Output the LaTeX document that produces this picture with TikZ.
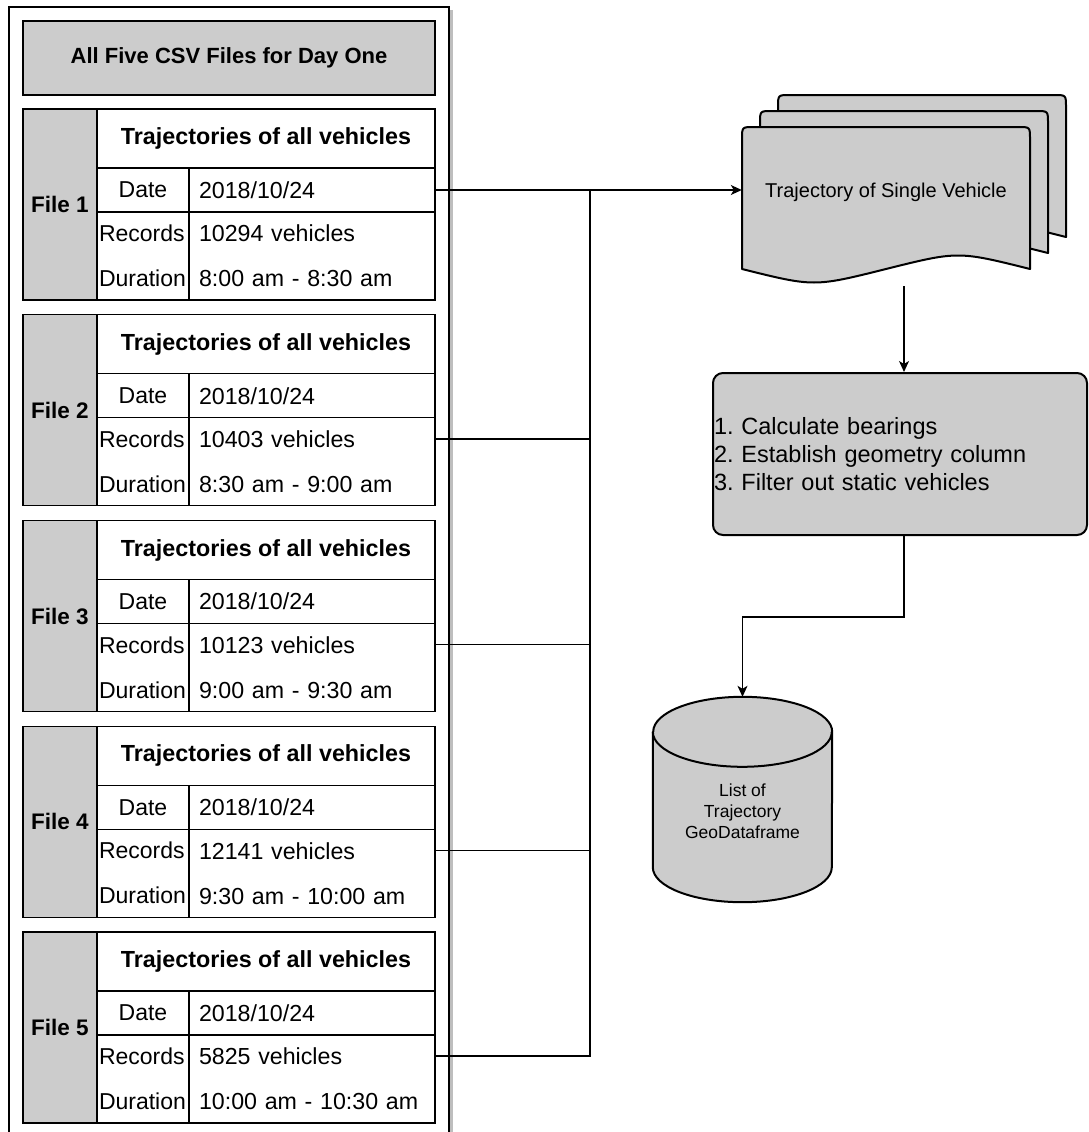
\documentclass[tikz,border=0pt]{standalone}
\usepackage{fontspec}
\setmainfont{Liberation Sans}
\usepackage{tikz}
\usetikzlibrary{positioning, arrows.meta, calc}
\frenchspacing
\definecolor{boxgray}{RGB}{204,204,204}
\definecolor{shadowgray}{RGB}{190,190,190}
\tikzset{
  cell/.style={
    draw, line width=1.4pt, inner sep=0pt, outer sep=0pt,
    font=\fontsize{23.2}{27}\selectfont
  },
  titlecell/.style={cell, fill=boxgray, minimum width=412pt, minimum height=74pt,
    font=\fontsize{22}{26}\selectfont\bfseries},
  filecell/.style={cell, fill=boxgray, minimum width=74pt, minimum height=191pt,
    font=\fontsize{22.5}{27}\selectfont\bfseries},
  headcell/.style={cell, minimum width=338pt, minimum height=59pt,
    font=\fontsize{23.3}{27}\selectfont\bfseries},
  keycell/.style={cell, text width=88pt, inner xsep=2pt, align=left,
    font=\fontsize{23}{45}\selectfont},
  valcell/.style={cell, text width=226pt, inner xsep=10pt, align=left,
    font=\fontsize{23.2}{45}\selectfont},
  frame/.style={draw, line width=1.4pt},
  docshape/.style={draw, line width=2pt, fill=boxgray, line join=round},
  procbox/.style={draw, line width=2pt, fill=boxgray, rounded corners=10pt,
    minimum width=374pt, minimum height=162pt, text width=372pt, inner xsep=1pt,
    align=left, font=\fontsize{23.5}{28}\selectfont},
  dblabel/.style={align=center, font=\fontsize{17.5}{21}\selectfont},
  link/.style={draw, line width=1.3pt},
  flow/.style={link, -{Stealth[length=11pt, width=10pt, inset=3pt]}},
}
\begin{document}
\begin{tikzpicture}[x=1pt, y=-1pt]
  \useasboundingbox (0,0) rectangle (1089,1132);

  % container of the csv files
  \draw[shadowgray, line width=2.5pt] (451.5,10) -- (451.5,1132);
  \draw[frame] (9,1132) -- (9,7) -- (449,7) -- (449,1132);
  \node[titlecell] (title) at (229,58) {All Five CSV Files for Day One};

  % one table per file
  \foreach \i/\n/\d in {1/10294/8:00 am - 8:30 am, 2/10403/8:30 am - 9:00 am,
      3/10123/9:00 am - 9:30 am, 4/12141/9:30 am - 10:00 am, 5/5825/10:00 am - 10:30 am}{
    \pgfmathsetmacro{\t}{109+205.75*(\i-1)}
    \node[filecell] (f\i) at (60,\t+95.5) {File \i};
    \node[headcell, anchor=north west] (h\i) at (f\i.north east) {Trajectories of all vehicles};
    \node[keycell, align=center, minimum height=44pt, below right=0pt of h\i.south west] (dk\i) {Date};
    \node[valcell, minimum height=44pt, right=0pt of dk\i] (dv\i) {2018/10/24};
    \node[keycell, minimum height=88pt, below=0pt of dk\i] (rk\i) {Records\\Duration};
    \node[valcell, minimum height=88pt, right=0pt of rk\i] (rv\i) {\n{} vehicles\\\d};
  }

  % stack of documents
  \node[minimum width=324pt, minimum height=192pt, inner sep=0pt] (docs) at (904,190) {};
  \foreach \k in {2,1,0}{
    \pgfmathsetmacro{\xa}{742+18*\k}
    \pgfmathsetmacro{\xb}{1030+18*\k}
    \pgfmathsetmacro{\ya}{127-16*\k}
    \pgfmathsetmacro{\yb}{269-16*\k}
    \draw[docshape] (\xa,\yb) -- (\xa,\ya+12) .. controls (\xa,\ya) .. (\xa+12,\ya)
      -- (\xb-12,\ya) .. controls (\xb,\ya) .. (\xb,\ya+12) -- (\xb,\yb)
      .. controls (\xb-72,\yb-18) .. (\xa+144,\yb)
      .. controls (\xa+72,\yb+18) .. (\xa,\yb) -- cycle;
  }
  \node[font=\fontsize{20}{24}\selectfont] (doctitle) at (886,192) {Trajectory of Single Vehicle};

  % processing step
  \node[procbox] (proc) at (900,454) {1. Calculate bearings\\2. Establish geometry column\\3. Filter out static vehicles};

  % database cylinder
  \node[minimum width=179pt, minimum height=205pt, inner sep=0pt] (db) at (742.5,799.5) {};
  \draw[docshape] (db.north west) ++(0,35) -- ($(db.south west)+(0,-35)$)
    arc[start angle=180, end angle=360, x radius=89.5pt, y radius=35pt]
    -- ($(db.north east)+(0,35)$)
    arc[start angle=0, end angle=180, x radius=89.5pt, y radius=35pt] -- cycle;
  \draw[docshape, fill=none] ($(db.north west)+(0,35)$)
    arc[start angle=180, end angle=360, x radius=89.5pt, y radius=35pt];
  \node[dblabel] (dbtext) at (742.5,811) {List of\\Trajectory\\GeoDataframe};

  % connectors
  \coordinate (bus) at (590,190);
  \draw[flow] (dv1.east) -- (docs.west);
  \foreach \i in {2,...,5}
    \draw[link] ($(rv\i.north east)!0.24!(rv\i.south east)$) -| (bus);
  \draw[flow] (docs.south) -- (docs.south |- proc.north);
  \draw[flow] (docs.south |- proc.south) -- ++(0,81) -| (db.north);
\end{tikzpicture}
\end{document}
